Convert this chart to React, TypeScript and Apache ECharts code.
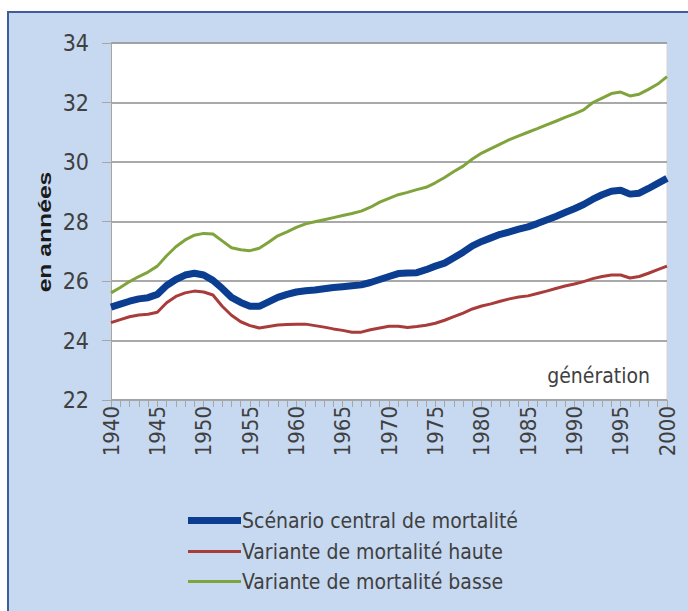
import React, { useEffect, useRef } from "react";
import * as echarts from "echarts";

const years = [
  "1940","1941","1942","1943","1944","1945","1946","1947","1948","1949",
  "1950","1951","1952","1953","1954","1955","1956","1957","1958","1959",
  "1960","1961","1962","1963","1964","1965","1966","1967","1968","1969",
  "1970","1971","1972","1973","1974","1975","1976","1977","1978","1979",
  "1980","1981","1982","1983","1984","1985","1986","1987","1988","1989",
  "1990","1991","1992","1993","1994","1995","1996","1997","1998","1999",
  "2000",
];

const central = [
  25.12, 25.22, 25.32, 25.4, 25.44, 25.55, 25.85, 26.05, 26.2, 26.26,
  26.2, 26.02, 25.75, 25.45, 25.28, 25.15, 25.15, 25.3, 25.45, 25.55,
  25.63, 25.67, 25.7, 25.74, 25.78, 25.81, 25.84, 25.87, 25.95, 26.05,
  26.15, 26.25, 26.27, 26.28, 26.38, 26.5, 26.6, 26.78, 26.97, 27.18,
  27.33, 27.45, 27.57, 27.65, 27.74, 27.82, 27.93, 28.05, 28.17, 28.3,
  28.43, 28.57, 28.75, 28.9, 29.02, 29.05, 28.92, 28.95, 29.11, 29.28,
  29.45,
];

const haute = [
  24.6, 24.7, 24.8, 24.86, 24.88, 24.95, 25.27, 25.48, 25.6, 25.66,
  25.63, 25.53, 25.15, 24.85, 24.63, 24.5, 24.42, 24.47, 24.52, 24.54,
  24.55, 24.55, 24.5, 24.45, 24.39, 24.34, 24.28, 24.28, 24.36, 24.42,
  24.48, 24.48, 24.44, 24.47, 24.51, 24.58, 24.68, 24.8, 24.92, 25.06,
  25.16, 25.23, 25.32, 25.4, 25.46, 25.5, 25.58, 25.66, 25.75, 25.83,
  25.9, 25.98, 26.08, 26.15, 26.2, 26.2, 26.1, 26.15, 26.26, 26.38,
  26.5,
];

const basse = [
  25.6, 25.78, 25.98, 26.15, 26.3, 26.5, 26.85, 27.15, 27.38, 27.54,
  27.6, 27.58, 27.35, 27.12, 27.05, 27.02, 27.1, 27.3, 27.52, 27.65,
  27.8, 27.92, 27.99, 28.06, 28.13, 28.2, 28.27, 28.35, 28.48, 28.65,
  28.78, 28.9, 28.98, 29.07, 29.15, 29.3, 29.48, 29.68, 29.86, 30.1,
  30.3, 30.45, 30.6, 30.75, 30.88, 31.0, 31.12, 31.25, 31.37, 31.5,
  31.62, 31.75, 32.0, 32.15, 32.3, 32.35, 32.22, 32.28, 32.44, 32.62,
  32.87,
];

const seriesNames = [
  "Scénario central de mortalité",
  "Variante de mortalité haute",
  "Variante de mortalité basse",
];
const seriesColors = ["#0b3d91", "#a93c3a", "#80a43c"];
const seriesWidths = [7, 3, 3];
const seriesData = [central, haute, basse];

const yTicks = { min: 22, max: 34, interval: 2 };

const FONT = '"Liberation Sans Narrow", "DejaVu Sans Condensed", "Liberation Sans", sans-serif';
const TXT = "#404040";

export default function App() {
  const ref = useRef<HTMLDivElement>(null);

  useEffect(() => {
    document.body.style.margin = "0";
    const chart = echarts.init(ref.current!, undefined, { renderer: "svg" });
    const legendTops = [505, 536, 566];
    chart.setOption({
      animation: false,
      backgroundColor: "#ffffff",
      textStyle: { fontFamily: FONT },
      graphic: [
        {
          type: "rect",
          z: -100,
          silent: true,
          shape: { x: 8, y: 12, width: 700, height: 620 },
          style: { fill: "#c6d9f0", stroke: "#3e5d9a", lineWidth: 2 },
        },
        {
          type: "text",
          x: 45,
          y: 232,
          rotation: Math.PI / 2,
          scaleX: 1.3,
          style: {
            text: "en années",
            fontFamily: '"Liberation Sans", sans-serif',
            fontWeight: "bold",
            fontSize: 19,
            fill: "#1a1a1a",
            align: "center",
            verticalAlign: "middle",
          },
        },
        {
          type: "text",
          x: 650,
          y: 376,
          z: 10,
          style: {
            text: "génération",
            fontFamily: FONT,
            fontSize: 21,
            fill: TXT,
            align: "right",
            verticalAlign: "middle",
          },
        },
      ],
      grid: {
        left: 111,
        top: 43,
        width: 556,
        height: 357,
        show: true,
        backgroundColor: "#ffffff",
        borderColor: "#d4d4d4",
        borderWidth: 1,
      },
      legend: seriesNames.map((name, i) => ({
        data: [name],
        left: 183,
        top: legendTops[i],
        orient: "vertical",
        icon: "rect",
        itemWidth: 53,
        itemHeight: seriesWidths[i],
        selectedMode: false,
        textStyle: { fontFamily: FONT, fontSize: 21, color: TXT, padding: [0, 0, 0, -4] },
      })),
      xAxis: {
        type: "category",
        data: years,
        boundaryGap: false,
        axisLine: { lineStyle: { color: "#a6a6a6", width: 1 } },
        axisTick: { show: true, interval: 0, length: 7, lineStyle: { color: "#a6a6a6" } },
        axisLabel: {
          interval: 4,
          rotate: 90,
          margin: 6,
          fontSize: 22,
          color: TXT,
          fontFamily: FONT,
        },
        splitLine: { show: false },
      },
      yAxis: {
        type: "value",
        min: yTicks.min,
        max: yTicks.max,
        interval: yTicks.interval,
        axisLine: { show: true, lineStyle: { color: "#a6a6a6", width: 1 } },
        axisTick: { show: true, length: 9, lineStyle: { color: "#a6a6a6" } },
        axisLabel: { margin: 22, fontSize: 23, color: TXT, fontFamily: FONT },
        splitLine: { show: true, lineStyle: { color: "#8c8c8c", width: 1.5 } },
      },
      series: seriesNames.map((name, i) => ({
        name,
        type: "line",
        data: seriesData[i],
        symbol: "none",
        smooth: false,
        z: 3 + (i === 0 ? 2 : 0),
        lineStyle: { color: seriesColors[i], width: seriesWidths[i] },
        itemStyle: { color: seriesColors[i] },
      })),
    });
    return () => chart.dispose();
  }, []);

  return <div ref={ref} style={{ width: 688, height: 611 }} />;
}
